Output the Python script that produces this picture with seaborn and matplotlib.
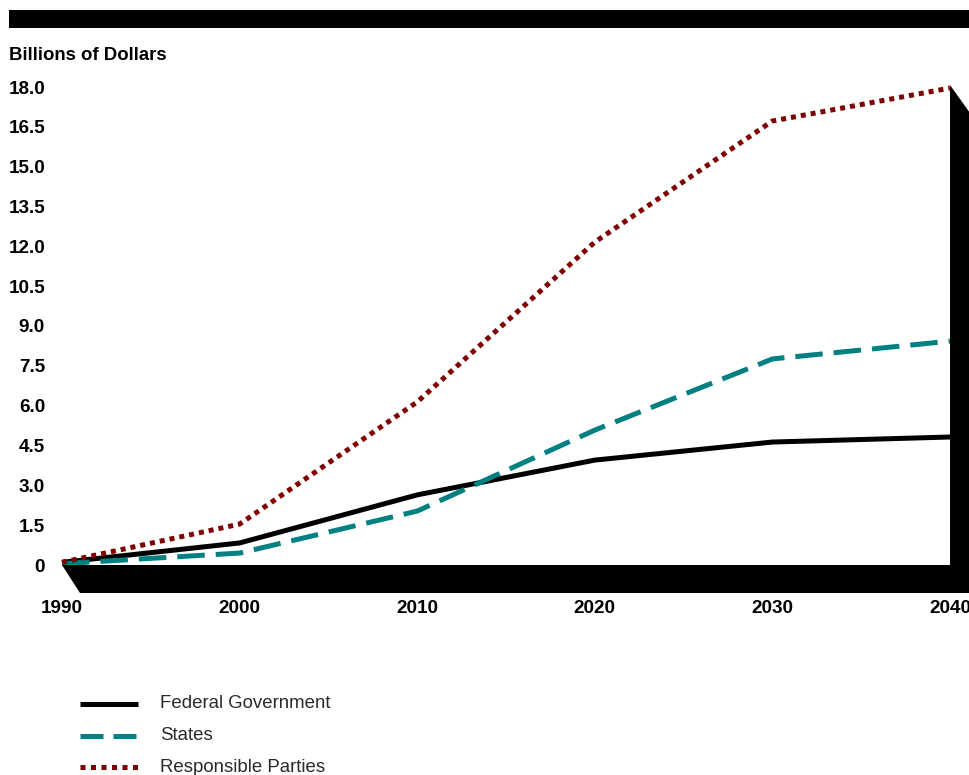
import matplotlib
matplotlib.use("Agg")
import matplotlib.pyplot as plt
import seaborn as sns
import pandas as pd
from matplotlib.patches import Polygon, Rectangle
from matplotlib.lines import Line2D

years = [1990, 2000, 2010, 2020, 2030, 2040]
federal = [0.1, 0.83, 2.64, 3.95, 4.63, 4.82]
states = [0.05, 0.45, 2.03, 5.08, 7.76, 8.43]
responsible = [0.1, 1.54, 6.14, 12.16, 16.72, 17.96]
series_names = ["Federal Government", "States", "Responsible Parties"]
yticks = [0, 1.5, 3.0, 4.5, 6.0, 7.5, 9.0, 10.5, 12.0, 13.5, 15.0, 16.5, 18.0]
ytick_labels = ["0", "1.5", "3.0", "4.5", "6.0", "7.5", "9.0", "10.5", "12.0", "13.5", "15.0", "16.5", "18.0"]
xticks = [1990, 2000, 2010, 2020, 2030, 2040]

sns.set_theme(style="white")
plt.rcParams['font.family'] = ['Liberation Sans', 'DejaVu Sans']

W, H = 970, 775
fig = plt.figure(figsize=(W / 100, H / 100), dpi=100)

def fx(px):
    return px / W

def fy(py):
    return 1 - py / H

left, right, top, bottom = 62, 950, 87, 565
ax = fig.add_axes([fx(left), fy(bottom), fx(right) - fx(left), fy(top) - fy(bottom)])

df = pd.DataFrame({
    "year": years * 3,
    "value": federal + states + responsible,
    "series": [series_names[0]] * 6 + [series_names[1]] * 6 + [series_names[2]] * 6,
})

colors = {"Federal Government": "#000000", "States": "#008080", "Responsible Parties": "#800000"}
dashes = {"Federal Government": "", "States": (5.5, 2.2), "Responsible Parties": (1, 1)}

sns.lineplot(data=df, x="year", y="value", hue="series", style="series",
             palette=colors, dashes=dashes, linewidth=3.6, ax=ax, legend=False,
             estimator=None, sort=False)
for ln in ax.get_lines():
    ln.set_dash_capstyle("butt")
    ln.set_solid_capstyle("butt")
    ln.set_clip_on(False)

ax.set_xlim(1990, 2040)
ax.set_ylim(0, 18)
ax.set_yticks(yticks)
ax.set_yticklabels(ytick_labels)
ax.set_xticks(xticks)
ax.set_xticklabels([str(x) for x in xticks])
for s in ax.spines.values():
    s.set_visible(False)
ax.tick_params(axis="y", length=0, pad=12.2, labelsize=13.6)
ax.tick_params(axis="x", length=0, pad=25, labelsize=13.6)
for lab in ax.get_yticklabels() + ax.get_xticklabels():
    lab.set_fontweight("bold")
    lab.set_color("black")
ax.set_xlabel("")
ax.set_ylabel("")
ax.grid(False)

# decorative 3D floor and wall
floor = Polygon([(fx(62), fy(565)), (fx(950), fy(565)), (fx(950), fy(593)), (fx(80), fy(593))],
                closed=True, transform=fig.transFigure, facecolor="black", edgecolor="none", zorder=0)
wall = Polygon([(fx(950), fy(85)), (fx(970), fy(113)), (fx(970), fy(593)), (fx(950), fy(593))],
               closed=True, transform=fig.transFigure, facecolor="black", edgecolor="none", zorder=0)
fig.patches.extend([floor, wall])

# top banner
banner = Rectangle((fx(9), fy(28)), fx(970) - fx(9), fy(10) - fy(28), transform=fig.transFigure,
                   facecolor="black", edgecolor="none")
fig.patches.append(banner)

fig.text(fx(9), fy(55), "Billions of Dollars", fontsize=13.4, fontweight="bold",
         ha="left", va="center", color="black")

# legend (manual)
legend_rows = [704, 736, 767]
legend_dashes = [None, (4.6, 2.0), (1, 1.1)]
for name, ypx, dsh in zip(series_names, legend_rows, legend_dashes):
    kw = dict(color=colors[name], linewidth=3.6, transform=fig.transFigure,
              solid_capstyle="butt", dash_capstyle="butt")
    if dsh is not None:
        kw["dashes"] = dsh
    fig.add_artist(Line2D([fx(80), fx(138)], [fy(ypx), fy(ypx)], **kw))
    fig.text(fx(160), fy(ypx), name, fontsize=13.4, ha="left", va="center", color="#2a2a2a")

fig.savefig("out.png", dpi=100)
